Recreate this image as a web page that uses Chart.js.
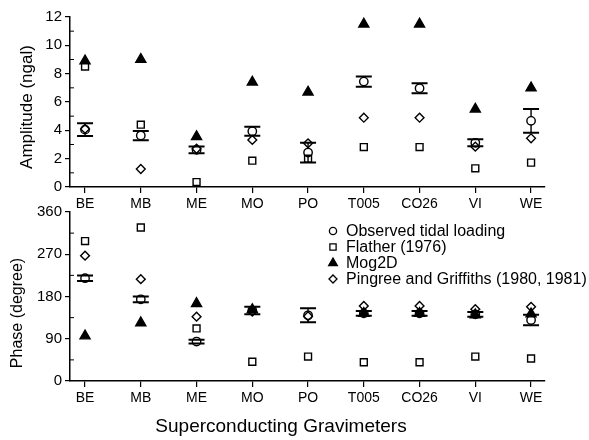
<!DOCTYPE html>
<html>
<head>
<meta charset="utf-8">
<script src="https://cdn.jsdelivr.net/npm/chart.js@4.4.1/dist/chart.umd.min.js"></script>
<style>
  body { margin: 0; background: #fff; }
  #wrap { position: relative; width: 589px; height: 440px; }
  #amp-chart { position: absolute; left: 0; top: 0; }
  #phase-chart { position: absolute; left: 0; top: 195px; }
</style>
</head>
<body>
<div id="wrap">
  <canvas id="amp-chart" width="589" height="215"></canvas>
  <canvas id="phase-chart" width="589" height="245"></canvas>
</div>
<script>
// stations (x axis)
const stations = ['BE', 'MB', 'ME', 'MO', 'PO', 'T005', 'CO26', 'VI', 'WE'];

// amplitude (ngal)
const obsAmp = [4.05, 3.63, 2.62, 3.94, 2.43, 7.44, 6.97, 3.12, 4.67];
const obsAmpErr = [0.45, 0.33, 0.24, 0.32, 0.7, 0.36, 0.35, 0.25, 0.84];
const flatherAmp = [8.5, 4.4, 0.35, 1.86, 2.0, 2.82, 2.82, 1.32, 1.72];
const mogAmp = [8.9, 9.0, 3.55, 7.4, 6.7, 11.5, 11.5, 5.5, 7.0];
const pgAmp = [4.1, 1.27, 2.7, 3.32, 3.08, 4.89, 4.89, 2.85, 3.44];

// phase (degree)
const obsPhase = [219, 174, 84, 150, 140, 144, 144, 142, 130];
const obsPhaseErr = [6, 6, 4, 8, 15, 5, 5, 5, 11];
const flatherPhase = [298, 327, 112, 41, 52, 40, 40, 52, 48];
const mogPhase = [96, 124, 165, 152, null, 144, 144, 141, 143];
const pgPhase = [267, 217, 137, 148, 138, 160, 160, 153, 158];

const ampTicks = [0, 2, 4, 6, 8, 10, 12];
const phaseTicks = [0, 90, 180, 270, 360];

const legendLabels = ['Observed tidal loading', 'Flather (1976)', 'Mog2D', 'Pingree and Griffiths (1980, 1981)'];

const FONT = "'Liberation Sans', Arial, Helvetica, sans-serif";
Chart.defaults.font.family = FONT;
Chart.defaults.color = '#000';

function pts(arr) {
  return arr.map((v, i) => ({ x: i + 1, y: v }));
}

const markers = [
  { style: 'triangle', radius: 5.8, fill: '#000' },
  { style: 'circle', radius: 4.2, fill: 'rgba(0,0,0,0)' },
  { style: 'rect', radius: 4.9, fill: 'rgba(0,0,0,0)' },
  { style: 'rectRot', radius: 4.4, fill: 'rgba(0,0,0,0)' }
];

function makeDatasets(obs, flather, mog, pg) {
  // Mog2D first so it is drawn on top
  const list = [mog, obs, flather, pg];
  const names = ['Mog2D', 'Observed tidal loading', 'Flather (1976)', 'Pingree and Griffiths (1980, 1981)'];
  return list.map((arr, k) => ({
    label: names[k],
    data: pts(arr),
    showLine: false,
    pointStyle: markers[k].style,
    pointRadius: markers[k].radius,
    pointHoverRadius: markers[k].radius,
    pointBackgroundColor: markers[k].fill,
    pointBorderColor: '#000',
    pointBorderWidth: 1.4
  }));
}

// error bars on the observed values
const errBars = {
  id: 'errBars',
  beforeDatasetsDraw(chart, args, opts) {
    const ctx = chart.ctx;
    const xs = chart.scales.x, ys = chart.scales.y;
    ctx.save();
    ctx.strokeStyle = '#000';
    opts.mean.forEach((m, i) => {
      const x = xs.getPixelForValue(i + 1);
      const yc = ys.getPixelForValue(m);
      const yt = ys.getPixelForValue(m + opts.err[i]);
      const yb = ys.getPixelForValue(m - opts.err[i]);
      const r = 4.2;
      ctx.lineWidth = 1.4;
      ctx.beginPath();
      if (yc - yt > r) { ctx.moveTo(x, yt); ctx.lineTo(x, yc - r); }
      if (yb - yc > r) { ctx.moveTo(x, yc + r); ctx.lineTo(x, yb); }
      ctx.stroke();
      ctx.lineWidth = 2;
      ctx.beginPath();
      ctx.moveTo(x - 8, yt); ctx.lineTo(x + 8, yt);
      ctx.moveTo(x - 8, yb); ctx.lineTo(x + 8, yb);
      ctx.stroke();
    });
    ctx.restore();
  }
};

// inward minor ticks + rotated y title (+ x title for the lower panel)
const axisExtras = {
  id: 'axisExtras',
  afterDraw(chart, args, opts) {
    const ctx = chart.ctx;
    const ys = chart.scales.y;
    const left = chart.chartArea.left;
    ctx.save();
    ctx.strokeStyle = '#000';
    ctx.lineWidth = 1;
    ctx.beginPath();
    opts.minor.forEach(v => {
      const y = ys.getPixelForValue(v);
      ctx.moveTo(left, y);
      ctx.lineTo(left + 4, y);
    });
    ctx.stroke();
    ctx.fillStyle = '#000';
    ctx.textAlign = 'center';
    ctx.textBaseline = 'middle';
    if (opts.xTitle) {
      ctx.font = '19px ' + FONT;
      ctx.fillText(opts.xTitle, opts.xTitleX, opts.xTitleY);
    }
    ctx.translate(opts.titleX, opts.titleY);
    ctx.rotate(-Math.PI / 2);
    ctx.font = opts.titleSize + 'px ' + FONT;
    ctx.fillText(opts.title, 0, 0);
    ctx.restore();
  }
};

// legend inside the phase panel
const boxLegend = {
  id: 'boxLegend',
  afterDraw(chart, args, opts) {
    if (!opts.show) return;
    const ctx = chart.ctx;
    const styles = [
      { pointStyle: 'circle', radius: 3.6, fill: 'rgba(0,0,0,0)' },
      { pointStyle: 'rect', radius: 4.4, fill: 'rgba(0,0,0,0)' },
      { pointStyle: 'triangle', radius: 5, fill: '#000' },
      { pointStyle: 'rectRot', radius: 4, fill: 'rgba(0,0,0,0)' }
    ];
    ctx.save();
    ctx.font = '16px ' + FONT;
    ctx.textAlign = 'left';
    ctx.textBaseline = 'middle';
    legendLabels.forEach((txt, i) => {
      const y = opts.y0 + i * 16;
      ctx.fillStyle = styles[i].fill;
      ctx.strokeStyle = '#000';
      ctx.lineWidth = 1.3;
      Chart.helpers.drawPoint(ctx, { pointStyle: styles[i].pointStyle, radius: styles[i].radius, rotation: 0, borderWidth: 1.3 }, opts.x0, y);
      ctx.fillStyle = '#000';
      ctx.fillText(txt, opts.x0 + 13, y + 1);
    });
    ctx.restore();
  }
};

function makeChart(id, data, yTicks, yMax, xAxisHeight, padTop, extras, errs, legend) {
  return new Chart(document.getElementById(id), {
    type: 'scatter',
    data: { datasets: makeDatasets(data[0], data[1], data[2], data[3]) },
    options: {
      responsive: false,
      animation: false,
      events: [],
      layout: { autoPadding: false, padding: { left: 0, right: 44, top: padTop, bottom: 0 } },
      plugins: {
        legend: { display: false },
        tooltip: { enabled: false },
        errBars: errs,
        axisExtras: extras,
        boxLegend: legend
      },
      scales: {
        x: {
          type: 'linear',
          min: 0.73,
          max: 9.25,
          afterBuildTicks: s => { s.ticks = stations.map((n, i) => ({ value: i + 1 })); },
          afterFit: s => { s.height = xAxisHeight; },
          ticks: {
            callback: v => stations[v - 1],
            font: { size: 14 },
            padding: 3,
            maxRotation: 0,
            autoSkip: false
          },
          grid: { drawOnChartArea: false, tickLength: 6, color: '#000', lineWidth: 1.2 },
          border: { color: '#000', width: 1.5 }
        },
        y: {
          min: 0,
          max: yMax,
          afterBuildTicks: s => { s.ticks = yTicks.map(v => ({ value: v })); },
          afterFit: s => { s.width = 70; },
          ticks: { font: { size: 15 }, padding: 3 },
          grid: { drawOnChartArea: false, tickLength: 5, color: '#000', lineWidth: 1.2 },
          border: { color: '#000', width: 1.5 }
        }
      }
    },
    plugins: [errBars, axisExtras, boxLegend]
  });
}

// top panel: amplitude
makeChart('amp-chart',
  [obsAmp, flatherAmp, mogAmp, pgAmp],
  ampTicks, 12, 28, 17,
  { minor: [1, 3, 5, 7, 9, 11], title: 'Amplitude (ngal)', titleSize: 17, titleX: 27, titleY: 107 },
  { mean: obsAmp, err: obsAmpErr },
  { show: false });

// bottom panel: phase
makeChart('phase-chart',
  [obsPhase, flatherPhase, mogPhase, pgPhase],
  phaseTicks, 360, 59, 17,
  { minor: [45, 135, 225, 315], title: 'Phase (degree)', titleSize: 16, titleX: 18, titleY: 118,
    xTitle: 'Superconducting Gravimeters', xTitleX: 281, xTitleY: 232 },
  { mean: obsPhase, err: obsPhaseErr },
  { show: true, x0: 333, y0: 36 });
</script>
</body>
</html>
